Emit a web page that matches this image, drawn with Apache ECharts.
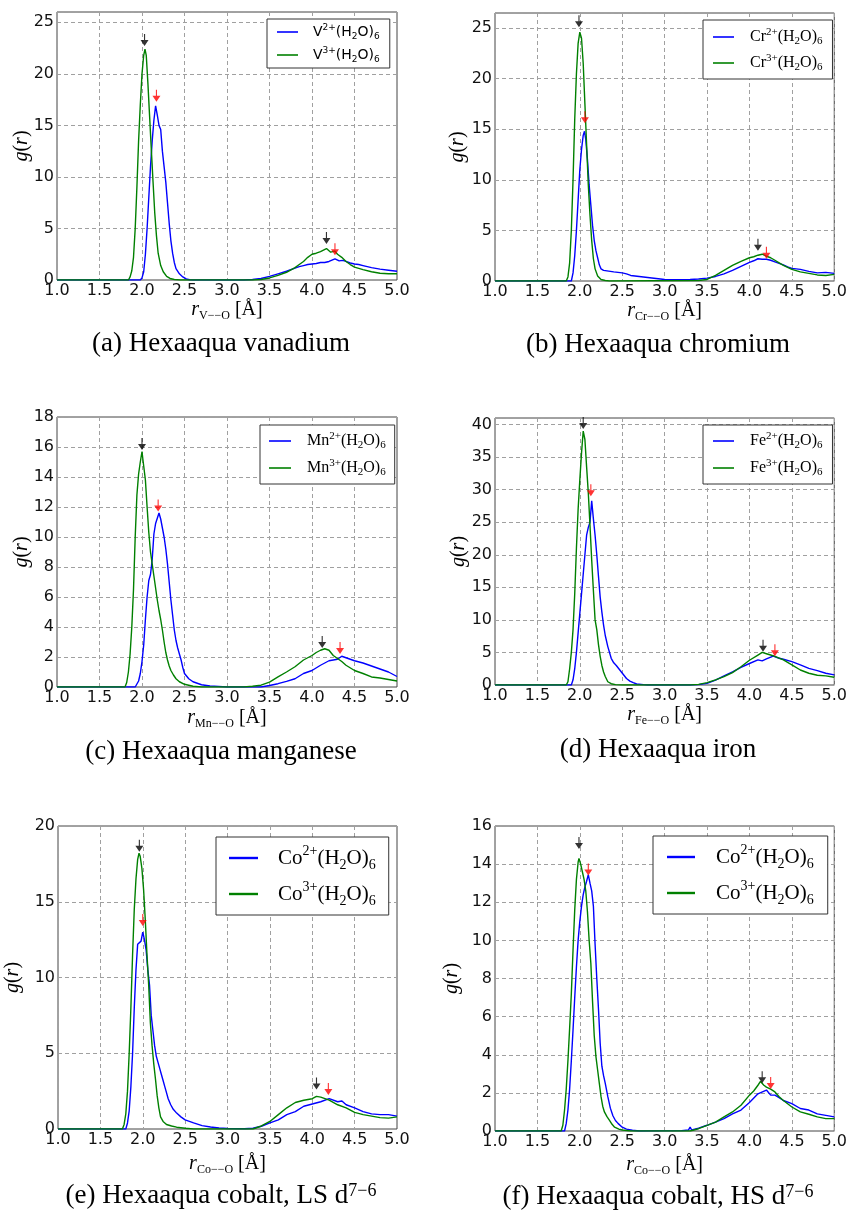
<!DOCTYPE html>
<html><head><meta charset="utf-8">
<script src="https://cdn.jsdelivr.net/npm/echarts@6/dist/echarts.min.js"></script>
<style>html,body{margin:0;padding:0;background:#fff}#c{width:850px;height:1214px}</style>
</head><body><div id="c"></div>
<script>
// ---------------- DATA (r [Å], g(r)) ----------------
const V2 = [[1.0,0],[1.98,0],[2.00,0.2],[2.02,0.8],[2.04,2.5],[2.06,5],[2.08,8],[2.10,11],[2.12,13.5],[2.14,15.5],[2.16,16.9],[2.18,16.0],[2.20,15.0],[2.22,14.6],[2.24,12.5],[2.26,11],[2.28,9.5],[2.30,7.5],[2.32,5.5],[2.34,3.8],[2.36,2.6],[2.38,1.7],[2.40,1.1],[2.44,0.6],[2.48,0.3],[2.52,0.1],[2.56,0.02],[2.6,0],[3.2,0],[3.3,0.05],[3.4,0.15],[3.5,0.35],[3.6,0.6],[3.7,0.85],[3.8,1.15],[3.85,1.3],[3.9,1.4],[3.95,1.5],[4.0,1.55],[4.05,1.6],[4.1,1.7],[4.15,1.7],[4.2,1.8],[4.27,2.05],[4.32,1.85],[4.36,1.9],[4.4,1.8],[4.45,1.65],[4.5,1.55],[4.55,1.5],[4.6,1.4],[4.65,1.3],[4.7,1.2],[4.8,1.05],[4.9,0.95],[5.0,0.85]];
const V3 = [[1.0,0],[1.84,0],[1.86,0.3],[1.88,0.9],[1.90,2.2],[1.92,5],[1.94,9],[1.96,13.5],[1.98,17],[2.00,20],[2.02,21.8],[2.035,22.4],[2.05,21.8],[2.07,19],[2.09,15.8],[2.11,12.6],[2.13,9.5],[2.15,6.5],[2.17,4.3],[2.19,2.6],[2.22,1.4],[2.25,0.8],[2.29,0.35],[2.33,0.15],[2.38,0.05],[2.45,0],[3.3,0],[3.4,0.05],[3.5,0.2],[3.6,0.45],[3.7,0.75],[3.8,1.2],[3.85,1.5],[3.9,1.8],[3.95,2.2],[4.0,2.5],[4.05,2.6],[4.1,2.75],[4.17,3.05],[4.22,2.7],[4.27,2.8],[4.3,2.5],[4.35,2.2],[4.4,1.8],[4.45,1.5],[4.5,1.25],[4.6,1.0],[4.7,0.8],[4.8,0.65],[4.9,0.6],[5.0,0.6]];

const CR2 = [[1.0,0],[1.90,0],[1.92,0.8],[1.94,2.5],[1.96,5],[1.98,8],[2.00,11],[2.02,13],[2.04,14.4],[2.055,14.8],[2.07,14],[2.09,12],[2.11,9.5],[2.13,7.5],[2.15,5.5],[2.17,4],[2.19,3],[2.21,2.3],[2.23,1.6],[2.25,1.2],[2.28,1.05],[2.32,1.0],[2.36,0.95],[2.4,0.9],[2.45,0.85],[2.5,0.8],[2.55,0.7],[2.6,0.55],[2.65,0.5],[2.7,0.45],[2.75,0.4],[2.8,0.35],[2.85,0.3],[2.9,0.25],[2.95,0.2],[3.0,0.15],[3.1,0.12],[3.2,0.12],[3.3,0.15],[3.4,0.2],[3.5,0.28],[3.6,0.45],[3.7,0.7],[3.8,1.05],[3.9,1.45],[4.0,1.85],[4.05,2.0],[4.1,2.2],[4.15,2.15],[4.2,2.15],[4.25,2.05],[4.3,1.9],[4.35,1.75],[4.4,1.6],[4.45,1.4],[4.5,1.25],[4.6,1.15],[4.7,0.95],[4.8,0.8],[4.9,0.85],[5.0,0.75]];
const CR3 = [[1.0,0],[1.84,0],[1.86,0.4],[1.88,1.8],[1.90,5],[1.92,10],[1.94,16],[1.96,20.5],[1.98,23.5],[2.00,24.6],[2.02,24.0],[2.04,21.5],[2.06,17.5],[2.08,13.5],[2.10,9.5],[2.12,6.5],[2.14,4],[2.16,2.2],[2.18,1.2],[2.21,0.5],[2.25,0.15],[2.3,0.05],[2.35,0],[3.4,0.05],[3.5,0.15],[3.6,0.55],[3.7,1.05],[3.8,1.55],[3.9,1.95],[4.0,2.3],[4.05,2.4],[4.1,2.55],[4.15,2.65],[4.2,2.45],[4.25,2.3],[4.3,2.05],[4.35,1.8],[4.4,1.55],[4.45,1.35],[4.5,1.15],[4.6,0.9],[4.7,0.75],[4.8,0.6],[4.9,0.55],[5.0,0.65]];

const MN2 = [[1.0,0],[1.92,0],[1.94,0.1],[1.96,0.4],[1.98,0.9],[2.00,1.7],[2.02,2.8],[2.04,4.5],[2.06,6.0],[2.08,7.1],[2.10,7.5],[2.12,8.5],[2.14,10.2],[2.16,10.9],[2.18,10.8],[2.20,11.6],[2.22,11.2],[2.24,10.6],[2.26,10],[2.28,9.2],[2.30,8.2],[2.32,7],[2.34,5.8],[2.36,4.8],[2.38,3.8],[2.40,3.1],[2.42,2.6],[2.44,2.2],[2.46,1.8],[2.48,1.3],[2.50,0.9],[2.55,0.55],[2.6,0.35],[2.7,0.15],[2.8,0.07],[2.9,0.04],[3.0,0],[3.4,0],[3.5,0.1],[3.6,0.22],[3.7,0.38],[3.8,0.55],[3.9,0.9],[4.0,1.1],[4.1,1.45],[4.2,1.75],[4.3,1.85],[4.35,2.05],[4.4,1.95],[4.5,1.75],[4.6,1.6],[4.7,1.4],[4.8,1.2],[4.9,1.0],[5.0,0.7]];
const MN3 = [[1.0,0],[1.80,0],[1.82,0.3],[1.84,1.0],[1.86,2.2],[1.88,4],[1.90,6.5],[1.92,10],[1.94,12.8],[1.96,14.2],[1.98,15],[2.00,15.7],[2.01,15.2],[2.02,15.3],[2.04,13.8],[2.06,12],[2.08,10.3],[2.10,9],[2.12,8.2],[2.14,7.4],[2.16,6.6],[2.18,5.8],[2.20,5.1],[2.22,4.5],[2.24,3.8],[2.26,3.0],[2.28,2.3],[2.30,1.8],[2.32,1.4],[2.34,1.1],[2.37,0.8],[2.40,0.55],[2.44,0.35],[2.5,0.18],[2.6,0.05],[2.7,0],[3.2,0],[3.3,0.05],[3.4,0.12],[3.5,0.33],[3.6,0.67],[3.7,1.0],[3.8,1.35],[3.9,1.8],[4.0,2.1],[4.05,2.3],[4.1,2.45],[4.15,2.55],[4.2,2.45],[4.25,2.1],[4.3,1.9],[4.35,1.7],[4.4,1.45],[4.5,1.1],[4.6,0.9],[4.7,0.67],[4.8,0.6],[4.9,0.5],[5.0,0.4]];

const FE2 = [[1.0,0],[1.90,0],[1.92,0.8],[1.94,2.5],[1.96,5],[1.98,8],[2.00,11],[2.02,14],[2.04,17],[2.06,20],[2.08,23],[2.10,24.2],[2.12,25],[2.14,28.3],[2.16,25.5],[2.18,23],[2.20,20],[2.22,16.7],[2.24,13.5],[2.26,11.2],[2.28,9.2],[2.30,7.6],[2.33,5.9],[2.37,4.1],[2.40,3.4],[2.43,3.0],[2.46,2.5],[2.49,2.0],[2.52,1.5],[2.55,1.0],[2.59,0.6],[2.63,0.35],[2.67,0.15],[2.75,0.05],[2.8,0],[3.3,0],[3.4,0.05],[3.5,0.25],[3.6,0.75],[3.7,1.4],[3.8,2.0],[3.9,2.7],[4.0,3.3],[4.1,3.85],[4.15,3.7],[4.2,4.0],[4.28,4.45],[4.35,4.1],[4.4,3.95],[4.5,3.6],[4.6,3.1],[4.7,2.55],[4.8,2.2],[4.9,1.8],[5.0,1.55]];
const FE3 = [[1.0,0],[1.84,0],[1.86,0.5],[1.88,2.5],[1.90,5],[1.92,8.5],[1.94,14],[1.96,21],[1.98,27],[2.00,31.5],[2.02,35.6],[2.04,39],[2.06,37.7],[2.08,33.5],[2.10,29.5],[2.12,24.5],[2.14,19.2],[2.16,14.5],[2.18,10],[2.20,8.5],[2.22,6.2],[2.24,4.4],[2.26,3.0],[2.28,2.0],[2.30,1.3],[2.33,0.5],[2.37,0.2],[2.42,0.05],[2.5,0],[3.3,0],[3.4,0.1],[3.5,0.36],[3.6,0.8],[3.7,1.3],[3.8,1.9],[3.9,2.8],[4.0,3.8],[4.1,4.6],[4.15,5.0],[4.2,4.8],[4.25,4.6],[4.3,4.4],[4.4,3.85],[4.5,3.1],[4.6,2.3],[4.7,1.8],[4.8,1.5],[4.9,1.4],[5.0,1.2]];

const COLS2 = [[1.0,0],[1.80,0],[1.82,0.4],[1.84,1.2],[1.86,2.8],[1.88,5],[1.90,8],[1.92,10.5],[1.94,12.2],[1.96,12.3],[1.98,12.4],[2.00,13.0],[2.02,12.5],[2.04,11.8],[2.06,10.5],[2.08,9.5],[2.10,7.5],[2.12,6.5],[2.14,5.5],[2.16,4.8],[2.18,4.4],[2.20,4.0],[2.22,3.6],[2.24,3.2],[2.26,2.8],[2.28,2.4],[2.30,2.0],[2.33,1.6],[2.36,1.3],[2.40,1.05],[2.45,0.8],[2.5,0.6],[2.55,0.5],[2.6,0.4],[2.7,0.22],[2.8,0.13],[2.9,0.07],[3.0,0.03],[3.2,0.02],[3.3,0.05],[3.4,0.18],[3.5,0.4],[3.6,0.6],[3.7,0.95],[3.8,1.15],[3.9,1.5],[4.0,1.65],[4.1,1.8],[4.2,2.0],[4.3,1.8],[4.35,1.85],[4.4,1.6],[4.5,1.4],[4.6,1.15],[4.7,1.0],[4.8,0.95],[4.9,0.95],[5.0,0.85]];
const COLS3 = [[1.0,0],[1.76,0],[1.78,0.3],[1.80,1.0],[1.82,2.5],[1.84,5],[1.86,8],[1.88,11.5],[1.90,14.5],[1.92,16.5],[1.94,17.8],[1.956,18.2],[1.97,18],[1.99,17.2],[2.01,15.8],[2.03,13.8],[2.05,11.5],[2.07,9.5],[2.09,7],[2.11,5.5],[2.13,4.3],[2.15,3.3],[2.17,2.2],[2.19,1.4],[2.21,0.8],[2.24,0.5],[2.28,0.3],[2.34,0.2],[2.4,0.12],[2.5,0.05],[2.6,0],[3.3,0],[3.4,0.2],[3.5,0.5],[3.6,0.95],[3.7,1.4],[3.8,1.75],[3.9,1.9],[4.0,2.0],[4.05,2.15],[4.1,2.1],[4.15,2.0],[4.2,1.9],[4.3,1.6],[4.4,1.4],[4.5,1.1],[4.6,0.95],[4.7,0.85],[4.8,0.75],[4.9,0.72],[5.0,0.8]];

const COHS2 = [[1.0,0],[1.82,0],[1.84,0.4],[1.86,1.1],[1.88,2.2],[1.90,3.7],[1.92,5.3],[1.94,7.0],[1.96,8.6],[1.98,10.0],[2.00,11.0],[2.02,11.8],[2.04,12.4],[2.06,12.8],[2.08,13.1],[2.10,13.45],[2.12,13.0],[2.14,12.6],[2.16,11.8],[2.18,9.8],[2.20,8.0],[2.22,6.4],[2.24,4.6],[2.26,3.4],[2.28,2.9],[2.30,2.5],[2.33,1.8],[2.36,1.2],[2.39,0.8],[2.42,0.55],[2.45,0.4],[2.5,0.2],[2.55,0.1],[2.62,0.04],[2.7,0],[3.2,0.02],[3.28,0.05],[3.3,0.2],[3.32,0.05],[3.4,0.15],[3.5,0.3],[3.6,0.47],[3.7,0.65],[3.8,0.9],[3.9,1.1],[4.0,1.5],[4.1,1.95],[4.2,2.15],[4.25,1.88],[4.3,1.88],[4.35,1.75],[4.4,1.6],[4.5,1.44],[4.6,1.18],[4.7,1.1],[4.8,0.9],[4.9,0.82],[5.0,0.74]];
const COHS3 = [[1.0,0],[1.78,0],[1.80,0.3],[1.82,1.1],[1.84,2.2],[1.86,3.7],[1.88,5.4],[1.90,7.2],[1.92,9.5],[1.94,11.6],[1.96,13.2],[1.98,14.1],[1.99,14.3],[2.01,14.0],[2.03,13.6],[2.05,13.2],[2.07,12.6],[2.09,11.5],[2.11,10.0],[2.13,8.8],[2.15,6.8],[2.17,5.0],[2.19,3.9],[2.21,3.2],[2.23,2.5],[2.25,1.8],[2.27,1.3],[2.29,1.0],[2.32,0.75],[2.35,0.56],[2.38,0.35],[2.41,0.2],[2.46,0.1],[2.5,0.05],[2.6,0],[3.3,0],[3.4,0.12],[3.5,0.3],[3.6,0.47],[3.7,0.74],[3.8,1.0],[3.9,1.35],[4.0,1.88],[4.05,2.1],[4.1,2.4],[4.13,2.6],[4.17,2.4],[4.2,2.3],[4.25,2.2],[4.3,2.05],[4.35,1.8],[4.4,1.6],[4.5,1.26],[4.6,1.0],[4.7,0.88],[4.8,0.74],[4.9,0.65],[5.0,0.65]];

// peak arrows: black over the 3+ (green) peaks, red over the 2+ (blue) peaks
const ARROW_BLACK = [
  [[2.03,22.7],[4.17,3.5]],
  [[1.99,25.1],[4.10,3.0]],
  [[2.00,15.8],[4.12,2.6]],
  [[2.04,39.3],[4.16,5.1]],
  [[1.96,18.3],[4.05,2.6]],
  [[1.99,14.8],[4.15,2.5]]
];
const ARROW_RED = [
  [[2.17,17.3],[4.27,2.4]],
  [[2.06,15.6],[4.20,2.2]],
  [[2.19,11.7],[4.33,2.2]],
  [[2.13,29.0],[4.30,4.4]],
  [[2.00,13.4],[4.19,2.25]],
  [[2.10,13.4],[4.25,2.2]]
];

const BLUE_SERIES = [V2, CR2, MN2, FE2, COLS2, COHS2];
const GREEN_SERIES = [V3, CR3, MN3, FE3, COLS3, COHS3];
const METALS = ['V','Cr','Mn','Fe','Co','Co'];
const CAPTIONS = ['(a) Hexaaqua vanadium','(b) Hexaaqua chromium','(c) Hexaaqua manganese','(d) Hexaaqua iron','(e) Hexaaqua cobalt, LS d{sup|7−6}','(f) Hexaaqua cobalt, HS d{sup|7−6}'];
const Y_MAX = [26, 26.5, 18, 41, 20, 16];
const Y_STEP = [5, 5, 2, 5, 5, 2];
const X_MIN = 1.0, X_MAX = 5.0, X_STEP = 0.5;

// ---------------- LAYOUT ----------------
const LAYOUT = [
  {left:57, top:12, width:340, height:268, gx:18, gy:24, cap:[221,344],
   lg:{left:267, top:19, pad:[4,10,4,10], h:18, gap:5, iw:21, ih:1.6, sp:10, fam:'DejaVu Sans', fs:14}},
  {left:495, top:13, width:340, height:268, gx:17, gy:26, cap:[658,345],
   lg:{left:703, top:20, pad:[7,10,6,10], h:20, gap:6, iw:21, ih:1.6, sp:11, fam:'Liberation Serif', fs:16}},
  {left:57, top:417, width:340, height:270, gx:19, gy:24, cap:[221,752],
   lg:{left:260, top:425, pad:[6,9,6,9], h:20, gap:7, iw:22, ih:1.6, sp:11, fam:'Liberation Serif', fs:16}},
  {left:495, top:418, width:340, height:267, gx:18, gy:25, cap:[658,750],
   lg:{left:703, top:425, pad:[6,10,6,10], h:20, gap:7, iw:21, ih:1.6, sp:11, fam:'Liberation Serif', fs:16}},
  {left:58, top:826, width:339, height:303, gx:23, gy:34, cap:[221,1196],
   lg:{left:216, top:837, pad:[7,13,7,13], h:28, gap:8, iw:29, ih:2.4, sp:15, fam:'Liberation Serif', fs:21}},
  {left:495, top:826, width:340, height:305, gx:22, gy:32, cap:[658,1197],
   lg:{left:653, top:836, pad:[7,14,7,14], h:28, gap:8, iw:28, ih:2.4, sp:16, fam:'Liberation Serif', fs:21}}
];

const ARROW = 'path://M4.3,0 L5.7,0 L5.7,6.5 L10,6.5 L5,13 L0,6.5 L4.3,6.5 Z';
const SERIF = 'Liberation Serif';
const BLUE = '#0000ff', GREEN = '#008000';

const grids=[], xAxes=[], yAxes=[], series=[], legends=[], graphics=[];
for (let i=0;i<6;i++){
  const L = LAYOUT[i];
  const step = Y_STEP[i];
  grids.push({left:L.left, top:L.top, width:L.width, height:L.height, show:true, borderColor:'#444', borderWidth:1, backgroundColor:'transparent'});
  xAxes.push({type:'value', gridIndex:i, min:X_MIN, max:X_MAX, interval:X_STEP,
    axisLine:{show:false}, axisTick:{show:false},
    splitLine:{show:true, lineStyle:{color:'#a0a0a0', width:1, type:[4,3]}},
    axisLabel:{formatter:v=>v.toFixed(1), margin:3, fontFamily:'DejaVu Sans', fontSize:16, color:'#111'},
    name:'{i|r}{s|'+METALS[i]+'−−O}{n| [Å]}', nameLocation:'middle', nameGap:L.gx,
    nameTextStyle:{rich:{
      i:{fontFamily:SERIF, fontStyle:'italic', fontSize:20, lineHeight:24, color:'#000'},
      s:{fontFamily:SERIF, fontSize:12, lineHeight:10, verticalAlign:'bottom', color:'#000'},
      n:{fontFamily:SERIF, fontSize:20, lineHeight:24, color:'#000'}}}
  });
  yAxes.push({type:'value', gridIndex:i, min:0, max:Y_MAX[i], interval:step,
    axisLine:{show:false}, axisTick:{show:false},
    splitLine:{show:true, lineStyle:{color:'#a0a0a0', width:1, type:[4,3]}},
    axisLabel:{formatter:v=>(Math.abs(v/step-Math.round(v/step))<1e-9 ? String(v) : ''), margin:3, fontFamily:'DejaVu Sans', fontSize:16, color:'#111'},
    name:'{i|g}{n|(}{i|r}{n|)}', nameLocation:'middle', nameRotate:90, nameGap:L.gy, nameMoveOverlap:false,
    nameTextStyle:{rich:{
      i:{fontFamily:SERIF, fontStyle:'italic', fontSize:20, lineHeight:22, color:'#000'},
      n:{fontFamily:SERIF, fontSize:20, lineHeight:22, color:'#000'}}}
  });
  const n2 = 'p'+i+'_2', n3 = 'p'+i+'_3';
  series.push({type:'line', name:n2, xAxisIndex:i, yAxisIndex:i, data:BLUE_SERIES[i], symbol:'none', showSymbol:false,
    lineStyle:{color:BLUE, width:1.4}, itemStyle:{color:BLUE}, z:2, animation:false});
  series.push({type:'line', name:n3, xAxisIndex:i, yAxisIndex:i, data:GREEN_SERIES[i], symbol:'none', showSymbol:false,
    lineStyle:{color:GREEN, width:1.4}, itemStyle:{color:GREEN}, z:3, animation:false});
  series.push({type:'scatter', xAxisIndex:i, yAxisIndex:i, data:ARROW_BLACK[i], symbol:ARROW, symbolSize:[8,12], symbolOffset:[0,'-50%'],
    itemStyle:{color:'#000'}, silent:true, z:6, animation:false});
  series.push({type:'scatter', xAxisIndex:i, yAxisIndex:i, data:ARROW_RED[i], symbol:ARROW, symbolSize:[8,12], symbolOffset:[0,'-50%'],
    itemStyle:{color:'#ff0000'}, silent:true, z:6, animation:false});
  const lg = L.lg, fs = lg.fs, m = METALS[i];
  legends.push({data:[{name:n2, icon:'rect'},{name:n3, icon:'rect'}], orient:'vertical', left:lg.left, top:lg.top, padding:lg.pad, itemGap:lg.gap,
    itemWidth:lg.iw, itemHeight:lg.ih, borderColor:'#333', borderWidth:1, backgroundColor:'#fff', borderRadius:0,
    selectedMode:false, inactiveColor:'#ccc',
    formatter:(name)=>{ const c = name.endsWith('_2') ? '2+' : '3+';
      return '{sp| }{b|'+m+'}{sup|'+c+'}{b|(H}{sub|2}{b|O)}{sub|6}'; },
    textStyle:{color:'#000', rich:{
      sp:{width:lg.sp, fontSize:fs, lineHeight:lg.h},
      b:{fontFamily:lg.fam, fontSize:fs, lineHeight:lg.h, color:'#000'},
      sup:{fontFamily:lg.fam, fontSize:Math.round(fs*0.66), lineHeight:Math.round(fs*0.72), verticalAlign:'top', color:'#000'},
      sub:{fontFamily:lg.fam, fontSize:Math.round(fs*0.66), lineHeight:Math.round(fs*0.66), verticalAlign:'bottom', color:'#000'}}}
  });
  graphics.push({type:'text', x:L.cap[0], y:L.cap[1], silent:true,
    style:{text:CAPTIONS[i], align:'center', verticalAlign:'middle', fontFamily:SERIF, fontSize:27, fill:'#000',
      rich:{sup:{fontFamily:SERIF, fontSize:18, lineHeight:14, verticalAlign:'top', fill:'#000'}}}});
}

const chart = echarts.init(document.getElementById('c'), null, {renderer:'canvas'});
chart.setOption({
  animation:false,
  backgroundColor:'#fff',
  grid:grids, xAxis:xAxes, yAxis:yAxes, series:series, legend:legends, graphic:graphics
});
</script>
</body></html>
